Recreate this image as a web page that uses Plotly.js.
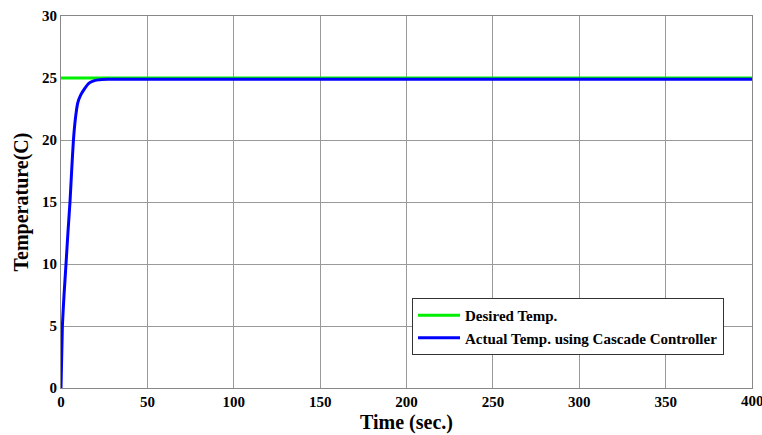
<!DOCTYPE html>
<html>
<head>
<meta charset="utf-8">
<script src="https://cdn.plot.ly/plotly-3.0.1.min.js"></script>
<style>html,body{margin:0;padding:0;background:#fff;}#chart{width:762px;height:435px;}</style>
</head>
<body>
<div id="chart"></div>
<script>
var desiredTime = [0, 400];
var desiredTemp = [25, 25];
var actualTime = [0, 0.8, 1.8, 2.9, 4.0, 5.2, 6.2, 7.2, 8.4, 9.7, 11.3, 13, 15.9, 18.5, 21.5, 27, 400];
var actualTemp = [0, 5, 7.6, 10, 12.5, 15, 17.6, 20, 21.8, 23, 23.6, 24, 24.55, 24.75, 24.85, 24.9, 24.9];
var xTicks = [0, 50, 100, 150, 200, 250, 300, 350, 400];
var yTicks = [0, 5, 10, 15, 20, 25, 30];

var font = 'Liberation Serif';
var traces = [
  {x: desiredTime, y: desiredTemp, mode: 'lines', name: '<b>Desired Temp.</b>',
   line: {color: '#00ee00', width: 3}},
  {x: actualTime, y: actualTemp, mode: 'lines', name: '<b>Actual Temp. using Cascade Controller</b>',
   line: {color: '#0000ff', width: 3, shape: 'spline', smoothing: 0.5}}
];
var layout = {
  width: 762, height: 435,
  margin: {l: 61, r: 10, t: 16, b: 47},
  paper_bgcolor: '#fff', plot_bgcolor: '#fff',
  showlegend: true,
  legend: {x: 0.508, y: 0.242, xanchor: 'left', yanchor: 'top', itemwidth: 42,
    bgcolor: '#fff', bordercolor: '#333', borderwidth: 1,
    font: {family: font, size: 15, color: '#000'}, tracegroupgap: 0},
  xaxis: {range: [0, 400], tickvals: xTicks.slice(0, -1), ticktext: xTicks.slice(0, -1).map(function(v){return '<b>'+v+'</b>';}),
    showgrid: true, gridcolor: '#999', gridwidth: 1,
    showline: true, linecolor: '#888', linewidth: 1, mirror: true, zeroline: false,
    ticks: '', tickfont: {family: font, size: 15, color: '#000'},
    title: {text: '<b>Time (sec.)</b>', font: {family: font, size: 20, color: '#000'}, standoff: 5}},
  yaxis: {range: [0, 30], tickvals: yTicks, ticktext: yTicks.map(function(v){return '<b>'+v+'</b>';}),
    showgrid: true, gridcolor: '#999', gridwidth: 1,
    showline: true, linecolor: '#888', linewidth: 1, mirror: true, zeroline: false,
    ticks: '', tickfont: {family: font, size: 15, color: '#000'},
    title: {text: '<b>Temperature(C)</b>', font: {family: font, size: 20, color: '#000'}, standoff: 8}},
  annotations: [{x: xTicks[xTicks.length - 1], xref: 'x', y: 0, yref: 'paper', yanchor: 'top', yshift: -3,
    text: '<b>' + xTicks[xTicks.length - 1] + '</b>', showarrow: false,
    font: {family: font, size: 15, color: '#000'}}]
};
Plotly.newPlot('chart', traces, layout, {displayModeBar: false, staticPlot: true});
</script>
</body>
</html>
